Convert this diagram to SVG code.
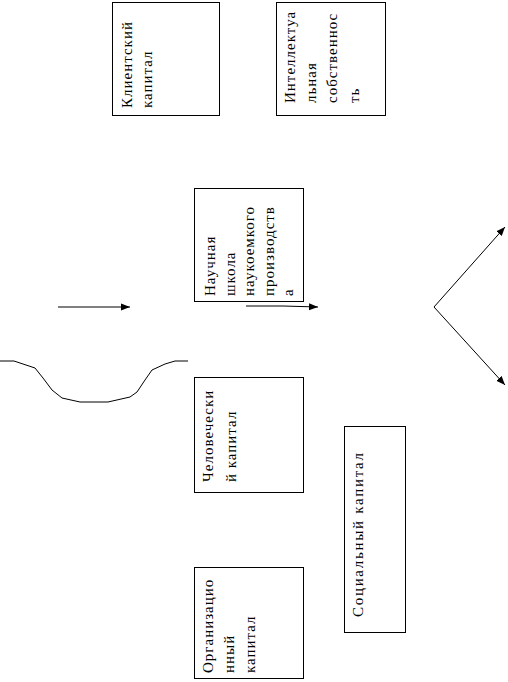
<svg xmlns="http://www.w3.org/2000/svg" width="508" height="682" viewBox="0 0 508 682">
<style>
.box{fill:#fff;stroke:#000;stroke-width:1}
.t{font-family:"Liberation Serif","Times New Roman",serif;font-size:15px;fill:#000;letter-spacing:1px}
.c{fill:none;stroke:#000;stroke-width:1}
</style>
<defs>
<marker id="ah" viewBox="0 0 10 10" refX="10" refY="5" markerWidth="9" markerHeight="9" markerUnits="userSpaceOnUse" orient="auto">
<path d="M0,1 L10,5 L0,9 Z" fill="#000"/>
</marker>
</defs>
<rect width="508" height="682" fill="#fff"/>
<g id="klient">
<rect class="box" x="112.5" y="2.5" width="107" height="113"/>
<g transform="translate(132,108) rotate(-90)"><text class="t" x="0" y="0">Клиентский</text><text class="t" x="0" y="20">капитал</text></g>
</g>
<g id="intel">
<rect class="box" x="276.5" y="2.5" width="109" height="113"/>
<g transform="translate(295,103) rotate(-90)"><text class="t" x="0" y="0">Интеллектуа</text><text class="t" x="0" y="21">льная</text><text class="t" x="0" y="42">собственнос</text><text class="t" x="0" y="64">ть</text></g>
</g>
<g id="nauch">
<rect class="box" x="194.5" y="188.5" width="109" height="113"/>
<g transform="translate(215,296) rotate(-90)"><text class="t" x="0" y="0">Научная</text><text class="t" x="0" y="19.5">школа</text><text class="t" x="0" y="39">наукоемкого</text><text class="t" x="0" y="58.5">производств</text><text class="t" x="0" y="78">а</text></g>
</g>
<g id="chel">
<rect class="box" x="194.5" y="377.5" width="109" height="115"/>
<g transform="translate(213,482) rotate(-90)"><text class="t" x="0" y="0">Человечески</text><text class="t" x="0" y="23">й капитал</text></g>
</g>
<g id="social">
<rect class="box" x="344.5" y="426.5" width="61" height="206"/>
<g transform="translate(363,617) rotate(-90)"><text class="t" x="0" y="0" style="letter-spacing:1.7px">Социальный капитал</text></g>
</g>
<g id="org">
<rect class="box" x="194.5" y="567.5" width="109" height="111"/>
<g transform="translate(213,673) rotate(-90)"><text class="t" x="0" y="0">Организацио</text><text class="t" x="0" y="21">нный</text><text class="t" x="0" y="42">капитал</text></g>
</g>
<g id="connectors">
<line class="c" x1="58" y1="307" x2="130" y2="307" marker-end="url(#ah)"/>
<polyline class="c" points="246,306 283,306 318,307" marker-end="url(#ah)"/>
<line class="c" x1="434" y1="307" x2="505" y2="227" marker-end="url(#ah)"/>
<line class="c" x1="434" y1="307" x2="505" y2="385" marker-end="url(#ah)"/>
<polyline class="c" points="0,361 14,361 35,368 43,378 52,390 62,398 80,402 108,402 130,397 137,392 145,380 152,370 165,364 175,361 188,361"/>
</g>
</svg>
